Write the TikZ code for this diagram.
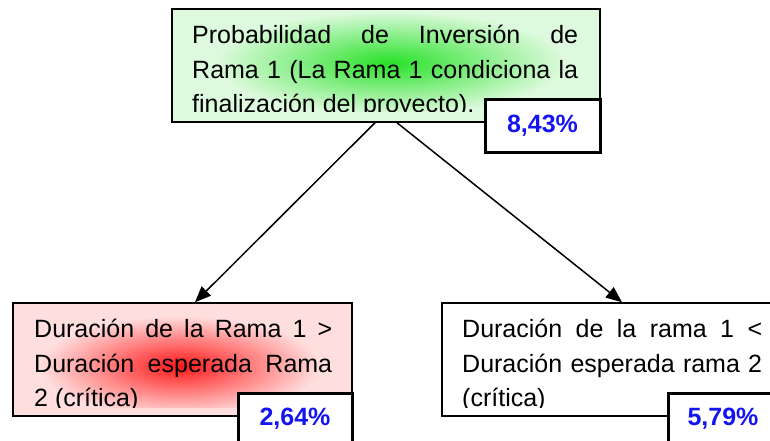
\documentclass[tikz,border=0pt]{standalone}
\usepackage{fontspec}
\setmainfont{Liberation Sans}
\usetikzlibrary{arrows.meta}
\definecolor{verdefondo}{RGB}{222,250,222}
\definecolor{verdebrillo}{RGB}{40,225,40}
\definecolor{rojofondo}{RGB}{255,222,222}
\definecolor{rojobrillo}{RGB}{255,25,25}
\definecolor{azulpct}{RGB}{20,20,240}

\begin{document}
\begin{tikzpicture}[x=1pt, y=-1pt,
    caja/.style={draw=black, line width=1.5pt, rectangle, inner sep=0pt},
    texto/.style={anchor=north west, inner sep=0pt, align=left, font=\fontsize{25}{34.5}\selectfont},
    pct/.style={draw=black, line width=3pt, fill=white, rectangle, inner sep=0pt, font=\bfseries\fontsize{25}{28}\selectfont, text=azulpct},
    flecha/.style={line width=1.5pt, -{Triangle[length=16pt,width=13pt]}}]

    \useasboundingbox (0,0) rectangle (770,441);

    % cajas
    \node[caja, fill=verdefondo, minimum width=428pt, minimum height=113pt] (prob) at (386,65.5) {};
    \node[caja, fill=rojofondo, minimum width=339pt, minimum height=113pt] (izq) at (182.5,359.5) {};
    \node[caja, fill=white, minimum width=348pt, minimum height=113pt] (der) at (616,359.5) {};

    \begin{scope}
        \clip (173,10) rectangle (599,112);
        \shade[inner color=verdebrillo, outer color=verdefondo] (390,63) ellipse (175pt and 52pt);
        \node[texto] (probtxt) at (192,25) {\makebox[386pt][s]{Probabilidad de Inversión de}\\
            \makebox[386pt][s]{Rama 1 (La Rama 1 condiciona la}\\ finalización del proyecto).};
    \end{scope}

    \begin{scope}
        \clip (14,304) rectangle (351,407);
        \shade[inner color=rojobrillo, outer color=rojofondo] (180,366) ellipse (140pt and 50pt);
        \node[texto] (izqtxt) at (34,319) {\makebox[298pt][s]{Duración de la Rama 1 >}\\
            \makebox[298pt][s]{Duración esperada Rama}\\ 2 (crítica)};
    \end{scope}

    \begin{scope}
        \clip (443,304) rectangle (770,407);
        \node[texto] (dertxt) at (462,319) {\makebox[300pt][s]{Duración de la rama 1 <}\\
            \makebox[300pt][s]{Duración esperada rama 2}\\ (crítica)};
    \end{scope}

    % porcentajes
    \node[pct, minimum width=115pt, minimum height=52pt] (pprob) at (542.5,126) {8,43\%};
    \node[pct, minimum width=114pt, minimum height=52pt] (pizq) at (295,419) {2,64\%};
    \node[pct, minimum width=110pt, minimum height=52pt] (pder) at (723,419) {5,79\%};

    \draw[flecha] ([xshift=-11pt]prob.south) -- ([xshift=12.5pt]izq.north);
    \draw[flecha] ([xshift=11pt]prob.south) -- ([xshift=6pt]der.north);

\end{tikzpicture}
\end{document}
